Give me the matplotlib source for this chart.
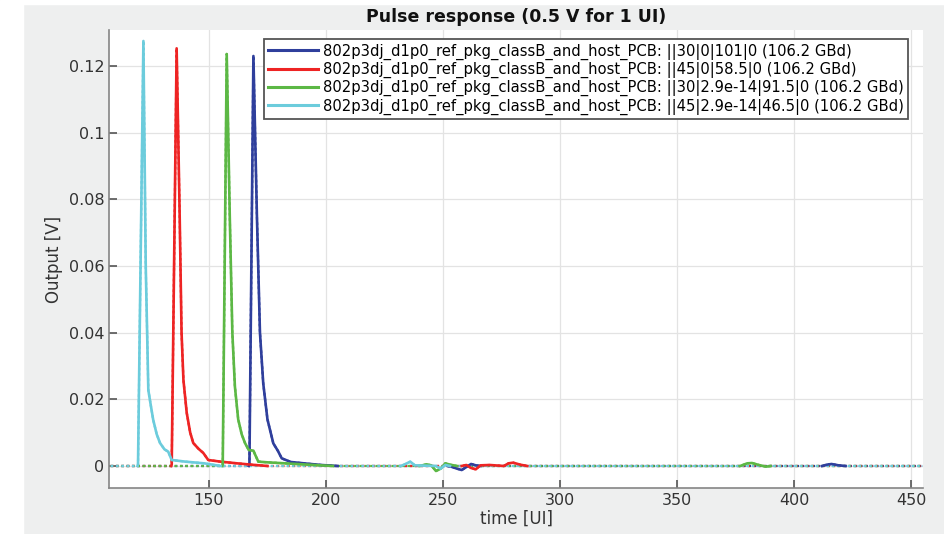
import numpy as np
import matplotlib.pyplot as plt
from matplotlib.patches import Rectangle
from matplotlib.ticker import FormatStrFormatter

title = "Pulse response (0.5 V for 1 UI)"
labels = [
    "802p3dj_d1p0_ref_pkg_classB_and_host_PCB: ||30|0|101|0 (106.2 GBd)",
    "802p3dj_d1p0_ref_pkg_classB_and_host_PCB: ||45|0|58.5|0 (106.2 GBd)",
    "802p3dj_d1p0_ref_pkg_classB_and_host_PCB: ||30|2.9e-14|91.5|0 (106.2 GBd)",
    "802p3dj_d1p0_ref_pkg_classB_and_host_PCB: ||45|2.9e-14|46.5|0 (106.2 GBd)",
]
colors = ["#2f3f9c", "#ee2424", "#5cb845", "#6cccdc"]

# time [UI] / output [V]
t_blue = [108, 167.0, 167.3, 169.0, 170.5, 171.8, 173.2, 175.0, 177.5, 179.5, 181.1, 185, 192, 198, 205,
          252, 254, 256, 258, 260, 262, 264, 266, 412, 414, 416, 419, 422, 455]
v_blue = [0, 0, 0.0005, 0.1230, 0.075, 0.040, 0.0248, 0.014, 0.0068, 0.0045, 0.0023, 0.0012, 0.0007, 0.0003, 0,
          0, -0.0003, -0.0008, -0.0012, -0.0003, 0.0006, 0.0002, 0, 0, 0.0004, 0.0006, 0.0002, 0, 0]

t_red = [108, 133.9, 134.1, 136.2, 137.5, 138.3, 139.1, 140.5, 142.0, 143.3, 145.5, 147.6, 149.7, 155, 162, 168, 175,
         258, 260, 262, 264, 266, 270, 276, 278, 280, 283, 286, 455]
v_red = [0, 0, 0.0005, 0.1253, 0.075, 0.040, 0.0258, 0.016, 0.010, 0.0069, 0.0052, 0.0039, 0.0018, 0.0013, 0.0008, 0.0004, 0,
         0, 0.0003, -0.0006, -0.0010, 0.0002, 0.0003, 0, 0.0008, 0.0010, 0.0004, 0, 0]

t_green = [108, 155.7, 155.9, 157.6, 158.9, 160.0, 161.1, 162.5, 164.0, 165.4, 167.0, 169.0, 170.0, 171.1, 175, 185, 195, 203,
           240, 243, 245, 247, 249, 251, 253, 256, 377, 380, 382, 385, 388, 390, 455]
v_green = [0, 0, 0.0005, 0.1236, 0.075, 0.040, 0.0238, 0.014, 0.0095, 0.0069, 0.0048, 0.0046, 0.0030, 0.0013, 0.0011, 0.0007, 0.0003, 0,
           0, 0.0005, 0.0002, -0.0015, -0.0008, 0.0008, 0.0004, 0, 0, 0.0008, 0.0009, 0.0003, -0.0002, 0, 0]

t_cyan = [108, 119.5, 119.7, 122.0, 123.0, 124.1, 125.2, 126.2, 127.7, 129.1, 131.0, 132.6, 134.1, 140, 148, 155,
          232, 234, 236, 238, 247, 249, 251, 253, 455]
v_cyan = [0, 0, 0.0005, 0.1275, 0.060, 0.0228, 0.018, 0.0138, 0.0095, 0.0069, 0.0050, 0.0043, 0.0018, 0.0013, 0.0008, 0,
          0, 0.0006, 0.0013, 0.0002, 0, -0.0008, 0.0003, 0, 0]

series = [(t_blue, v_blue), (t_red, v_red), (t_green, v_green), (t_cyan, v_cyan)]


def solid_parts(t, v):
    # break the line wherever two zero samples follow each other
    xs, ys = [t[0]], [v[0]]
    for i in range(1, len(t)):
        if v[i] == 0 and v[i - 1] == 0:
            xs.append(np.nan)
            ys.append(np.nan)
        xs.append(t[i])
        ys.append(v[i])
    return xs, ys


fig = plt.figure(figsize=(9.44, 5.34), dpi=100, facecolor="#eeefef")
fig.patches.append(Rectangle((0, 0), 23 / 944, 1, transform=fig.transFigure, color="white", zorder=-1))
fig.patches.append(Rectangle((0, 1 - 4 / 534), 1, 4 / 534, transform=fig.transFigure, color="white", zorder=-1))

ax = fig.add_axes([109 / 944, 1 - 488 / 534, 814 / 944, 458 / 534])
ax.set_facecolor("white")

handles = []
for (t, v), c, lab in zip(series, colors, labels):
    ax.plot(t, v, color=c, lw=1.6, ls=(0, (1.2, 1.2)), zorder=2)
    xs, ys = solid_parts(t, v)
    ax.plot(xs, ys, "-", color=c, lw=1.9, zorder=3)
    h, = ax.plot([], [], "-", color=c, lw=2.2, label=lab)
    handles.append(h)

ax.set_xlim(107.3, 455.1)
ax.set_ylim(-0.0066, 0.1308)
ax.set_xticks([150, 200, 250, 300, 350, 400, 450])
ax.set_yticks([0, 0.02, 0.04, 0.06, 0.08, 0.1, 0.12])
ax.yaxis.set_major_formatter(FormatStrFormatter("%g"))
ax.grid(True, color="#e3e3e3", lw=0.9)
ax.set_axisbelow(True)
for s in ["top", "right"]:
    ax.spines[s].set_visible(False)
for s in ["left", "bottom"]:
    ax.spines[s].set_color("#858585")
    ax.spines[s].set_linewidth(1.2)
ax.tick_params(direction="in", length=6, width=1.2, color="#555555", labelcolor="#333333", labelsize=11.5)

ax.set_xlabel("time [UI]", fontsize=12, color="#333333", labelpad=1)
ax.set_ylabel("Output [V]", fontsize=12, color="#333333")
ax.set_title(title, fontsize=12.5, fontweight="bold", color="#111111", pad=6)

leg = ax.legend(handles=handles, loc="upper right", bbox_to_anchor=(908 / 944, 1 - 39 / 534),
                bbox_transform=fig.transFigure, fontsize=10.6, fancybox=False, framealpha=1,
                edgecolor="#555555", handlelength=3.4, handletextpad=0.3, labelspacing=0.15,
                borderpad=0.3, borderaxespad=0)
leg.get_frame().set_linewidth(1.3)

fig.savefig("out.png", dpi=100, facecolor=fig.get_facecolor())
